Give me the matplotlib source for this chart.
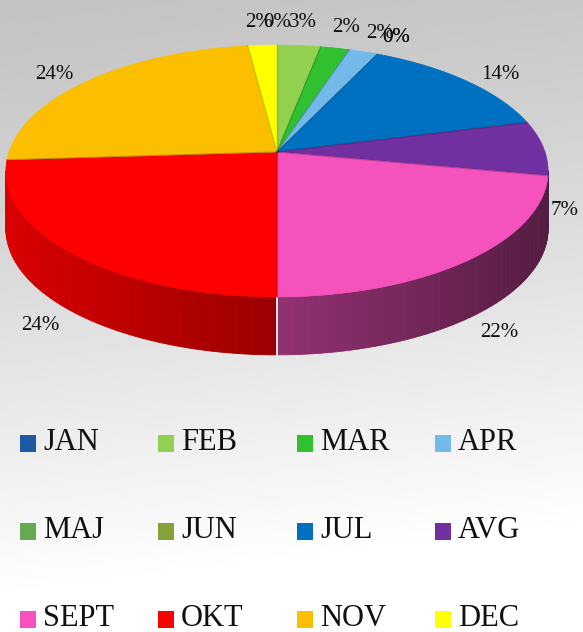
import numpy as np
import matplotlib.pyplot as plt
from matplotlib.patches import Polygon, Rectangle

months = ["JAN", "FEB", "MAR", "APR", "MAJ", "JUN",
          "JUL", "AVG", "SEPT", "OKT", "NOV", "DEC"]
values = [0, 3, 2, 2, 0, 0, 14, 7, 22, 24, 24, 2]
colors = ["#1B5BA6", "#92D050", "#30C030", "#73B9EA", "#66A853", "#86A03A",
          "#0070C0", "#7030A0", "#F552BE", "#FF0000", "#FBBF00", "#FFFF00"]

W, H = 583, 632
cx, cy = 277, 152        # pie centre in pixels
a, b, k = 268, 123, 0.151  # ellipse axes and perspective factor
depth = 58


def proj(th, r=1.0):
    d = 1 + k * r * np.sin(th)
    return cx + a * r * np.cos(th) / d, cy - b * r * np.sin(th) / d


def shade(col, x):
    rgb = np.array(plt.matplotlib.colors.to_rgb(col))
    xn = (x - cx) / a
    return tuple(np.clip(rgb * (0.6 - 0.25 * xn), 0, 1))


fig = plt.figure(figsize=(W / 100, H / 100), dpi=100)
ax = fig.add_axes([0, 0, 1, 1])
ax.set_xlim(0, W)
ax.set_ylim(H, 0)
ax.axis("off")

# background gradient
yy, xx = np.mgrid[0:1:200j, 0:1:200j]
t = np.clip(yy / 0.95 + 0.12 * xx, 0, 1)
bg = 0.765 + 0.235 * t ** 1.2
ax.imshow(bg, cmap="gray", vmin=0, vmax=1, extent=[0, W, H, 0], aspect="auto", zorder=0)

total = float(sum(values))
cum = np.concatenate([[0], np.cumsum(values)]) / total
starts = np.pi / 2 - 2 * np.pi * cum[:-1]
ends = np.pi / 2 - 2 * np.pi * cum[1:]

# visible part of the side wall (between the silhouette tangents)
w_lo, w_hi = -np.pi + np.arcsin(k), -np.arcsin(k)

for v, c, s, e in zip(values, colors, starts, ends):
    if v == 0:
        continue
    for off in (0, -2 * np.pi, 2 * np.pi):
        lo, hi = max(e + off, w_lo), min(s + off, w_hi)
        if hi <= lo:
            continue
        n = max(2, int((hi - lo) / np.radians(1.5)) + 1)
        th = np.linspace(lo, hi, n)
        for t0, t1 in zip(th[:-1], th[1:]):
            x0, y0 = proj(t0)
            x1, y1 = proj(t1)
            col = shade(c, (x0 + x1) / 2)
            ax.add_patch(Polygon([(x0, y0), (x1, y1), (x1, y1 + depth), (x0, y0 + depth)],
                                 closed=True, fc=col, ec=col, lw=0.6, zorder=2))
        for tb in (lo, hi):
            if abs(tb + np.pi / 2) < 0.05:
                xb, yb = proj(tb)
                ax.plot([xb, xb], [yb, yb + depth], color="white", lw=1.2, alpha=0.8, zorder=3)

# top surface
for v, c, s, e in zip(values, colors, starts, ends):
    if v == 0:
        continue
    th = np.linspace(s, e, max(3, int(abs(s - e) / np.radians(1)) + 2))
    px, py = proj(th)
    pts = [(cx, cy)] + list(zip(px, py))
    ax.add_patch(Polygon(pts, closed=True, fc=c, ec=c, lw=0.5, zorder=4))

# faint slice borders on top
for v, s in zip(values, starts):
    if v == 0:
        continue
    bx, by = proj(s)
    ax.plot([cx, bx], [cy, by], color="black", lw=1.0, alpha=0.18, zorder=5)

# percentage labels
for v, s, e in zip(values, starts, ends):
    m = (s + e) / 2
    px, py = proj(m)
    sn = np.sin(m)
    lx = px + 45 * np.cos(m)
    if sn > 0:
        ly = py - 23 * sn ** 3
    else:
        ly = py - 15 * sn
    if sn < 0.2:
        ly += 62
    lx = min(lx, W - 18)
    ax.text(lx, ly, "{:d}%".format(int(round(100 * v / total))), ha="center", va="center",
            fontsize=15, family="Liberation Serif", color="#111111", zorder=6)

# legend
col_x = [20, 158, 297, 435]
row_y = [443, 531, 619]
for i, (name, c) in enumerate(zip(months, colors)):
    r, cc = divmod(i, 4)
    ax.add_patch(Rectangle((col_x[cc], row_y[r] - 8), 16, 17, fc=c, ec="none", zorder=5))
    ax.text(col_x[cc] + 23, row_y[r] - 1, name, ha="left", va="center",
            fontsize=22, family="Liberation Serif", color="#111111", zorder=6)

fig.savefig("out.png", dpi=100)
